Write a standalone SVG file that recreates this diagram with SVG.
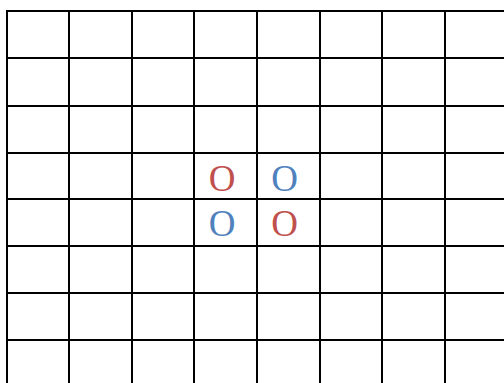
<svg xmlns="http://www.w3.org/2000/svg" width="504" height="383" viewBox="0 0 504 383">
<style>
.g line{stroke:#000;stroke-width:2}
.o{font-family:"Liberation Serif","Times New Roman",serif;font-size:37px;text-anchor:middle}
.r{fill:#C0504D}
.b{fill:#4F81BD}
</style>
<rect width="504" height="383" fill="#fff"/>
<g id="grid" class="g">
<line x1="7" y1="10" x2="7" y2="383"/>
<line x1="69" y1="10" x2="69" y2="383"/>
<line x1="132" y1="10" x2="132" y2="383"/>
<line x1="194" y1="10" x2="194" y2="383"/>
<line x1="257" y1="10" x2="257" y2="383"/>
<line x1="320" y1="10" x2="320" y2="383"/>
<line x1="382" y1="10" x2="382" y2="383"/>
<line x1="445" y1="10" x2="445" y2="383"/>
<line x1="6" y1="11" x2="504" y2="11"/>
<line x1="6" y1="58" x2="504" y2="58"/>
<line x1="6" y1="106" x2="504" y2="106"/>
<line x1="6" y1="153" x2="504" y2="153"/>
<line x1="6" y1="199" x2="504" y2="199"/>
<line x1="6" y1="246" x2="504" y2="246"/>
<line x1="6" y1="293" x2="504" y2="293"/>
<line x1="6" y1="340" x2="504" y2="340"/>
</g>
<g id="pieces">
<text class="o r" x="222" y="190.5">O</text>
<text class="o b" x="284.5" y="190.5">O</text>
<text class="o b" x="222" y="235.5">O</text>
<text class="o r" x="284.5" y="235.5">O</text>
</g>
</svg>
